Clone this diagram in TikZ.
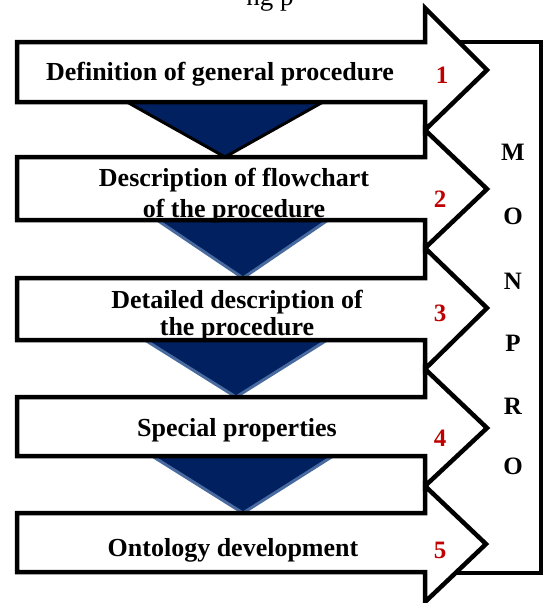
\documentclass[tikz,border=0pt]{standalone}
\usepackage{fontspec}
\setmainfont{Liberation Serif}
\definecolor{navy}{RGB}{0,32,96}
\definecolor{edgeblue}{RGB}{72,106,158}
\definecolor{numred}{RGB}{192,0,0}
\begin{document}
\begin{tikzpicture}[x=1pt,y=-1pt,
  outline/.style={draw=black,line width=4.5pt,line join=miter,fill=white},
  funnel/.style={fill=navy,draw=edgeblue,line width=3pt,line join=round},
  steptext/.style={font=\bfseries\fontsize{26}{30}\selectfont,align=center,inner sep=0pt,anchor=base},
  stepnum/.style={font=\bfseries\fontsize{25}{30}\selectfont,text=numred,inner sep=0pt,anchor=base},
  sideletter/.style={font=\bfseries\fontsize{25}{30}\selectfont,inner sep=0pt,anchor=base}]
\useasboundingbox (0,0) rectangle (544,603);

% caption fragment above the figure, cut by the page edge
\begin{scope}
  \clip (0,0) rectangle (544,603);
  \node[font=\fontsize{27}{30}\selectfont,inner sep=0pt,anchor=base] (cap) at (270,5) {ng p};
\end{scope}

% MONPRO frame
\draw[outline] (425,42) rectangle (541,573);

% funnels between the steps
\draw[funnel,draw=black] (127,102) -- (323,102) -- (225,157) -- cycle;
\draw[funnel] (157,220) -- (328,220) -- (243,278) -- cycle;
\draw[funnel] (145,340) -- (327,340) -- (236,397) -- cycle;
\draw[funnel] (152,456) -- (333,456) -- (243,513) -- cycle;

% step arrows: body top, body bottom, head top, head bottom, tip
\newcommand\steparrow[6]{%
  \draw[outline] (17,#1) -- (425,#1) -- (425,#3) -- (#5,#6) -- (425,#4)
    -- (425,#2) -- (17,#2) -- cycle;}
\steparrow{42}{102}{8}{130}{487}{70}
\steparrow{157}{220}{130}{248}{487}{189}
\steparrow{278}{340}{248}{369}{487}{308}
\steparrow{397}{456}{369}{486}{487}{428}
\steparrow{513}{572}{486}{602}{486}{544}

% step texts
\node[steptext] (s1) at (220,80) {Definition of general procedure};
\node[steptext] (s2a) at (234,186) {Description of flowchart};
\node[steptext] (s2b) at (234,217) {of the procedure};
\node[steptext] (s3a) at (237,308) {Detailed description of};
\node[steptext] (s3b) at (237,335) {the procedure};
\node[steptext] (s4) at (237,436) {Special properties};
\node[steptext] (s5) at (233,556) {Ontology development};

% step numbers
\node[stepnum] (n1) at (442,83) {1};
\node[stepnum] (n2) at (440,207) {2};
\node[stepnum] (n3) at (440,321) {3};
\node[stepnum] (n4) at (440,446) {4};
\node[stepnum] (n5) at (440,558) {5};

% vertical MONPRO label
\node[sideletter] (m1) at (513,160) {M};
\node[sideletter] (m2) at (513,224) {O};
\node[sideletter] (m3) at (513,289) {N};
\node[sideletter] (m4) at (513,351) {P};
\node[sideletter] (m5) at (513,414) {R};
\node[sideletter] (m6) at (513,474) {O};
\end{tikzpicture}
\end{document}
